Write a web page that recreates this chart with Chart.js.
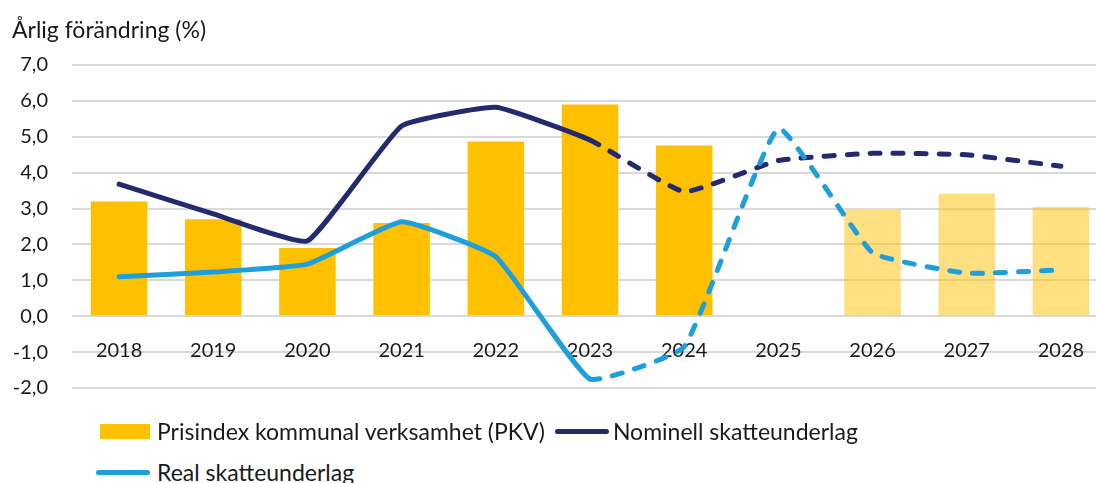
<!DOCTYPE html>
<html>
<head>
<meta charset="utf-8">
<script src="https://cdn.jsdelivr.net/npm/chart.js@4.4.1/dist/chart.umd.min.js"></script>
<style>
    body { margin: 0; background: #fff; overflow: hidden; font-family: Lato, sans-serif; color: #1a1a1a; }
    #wrap { position: relative; width: 1096px; height: 483px; overflow: hidden; }
    #chart { position: absolute; left: 0; top: 0; }
    #yTitle { position: absolute; left: 12px; top: 15px; font-size: 23px; white-space: nowrap; }
    .legend-row { position: absolute; display: flex; align-items: center; font-size: 23px; white-space: nowrap; }
    .swatch-bar { width: 50px; height: 15px; background: #FFC000; margin-right: 7px; }
    .swatch-line { width: 54px; height: 5px; border-radius: 3px; margin-right: 4px; }
</style>
</head>
<body>
<div id="wrap">
    <canvas id="chart" width="1110" height="424"></canvas>
    <div id="yTitle">Årlig förändring (%)</div>
    <div class="legend-row" style="left: 100px; top: 417px;">
        <div class="swatch-bar"></div><span>Prisindex kommunal verksamhet (PKV)</span>
        <div class="swatch-line" style="background: #232B6E; margin-left: 10px;"></div><span>Nominell skatteunderlag</span>
    </div>
    <div class="legend-row" style="left: 96px; top: 458px;">
        <div class="swatch-line" style="background: #1E9FDB; margin-right: 7px;"></div><span>Real skatteunderlag</span>
    </div>
</div>
<script>
const years = ['2018', '2019', '2020', '2021', '2022', '2023', '2024', '2025', '2026', '2027', '2028'];
const pkv = [3.2, 2.7, 1.9, 2.6, 4.87, 5.9, 4.76, null, 2.96, 3.41, 3.04];
const nominal = [3.68, 2.85, 2.1, 5.3, 5.82, 4.91, 3.47, 4.34, 4.54, 4.5, 4.18];
const real = [1.1, 1.23, 1.45, 2.63, 1.66, -1.75, -0.85, 5.23, 1.77, 1.2, 1.29];
const firstForecast = 5; // dashed from 2023 onwards
const yTicks = [-2, -1, 0, 1, 2, 3, 4, 5, 6, 7];

const gold = '#FFC000';
const goldLight = 'rgba(255, 192, 0, 0.5)';
const pkvColors = years.map(y => Number(y) >= 2026 ? goldLight : gold);

const dashAfter = ctx => ctx.p0DataIndex >= firstForecast ? [10, 13] : undefined;

const font = { family: 'Lato, sans-serif', size: 20 };

new Chart(document.getElementById('chart'), {
    type: 'bar',
    data: {
        labels: years,
        datasets: [
            {
                type: 'line',
                label: 'Real skatteunderlag',
                data: real,
                borderColor: '#1E9FDB',
                borderWidth: 5,
                borderCapStyle: 'round',
                borderJoinStyle: 'round',
                pointRadius: 0,
                tension: 0.12,
                segment: { borderDash: dashAfter },
                order: 0
            },
            {
                type: 'line',
                label: 'Nominell skatteunderlag',
                data: nominal,
                borderColor: '#232B6E',
                borderWidth: 5,
                borderCapStyle: 'round',
                borderJoinStyle: 'round',
                pointRadius: 0,
                tension: 0.12,
                segment: { borderDash: dashAfter },
                order: 1
            },
            {
                label: 'Prisindex kommunal verksamhet (PKV)',
                data: pkv,
                backgroundColor: pkvColors,
                categoryPercentage: 1,
                barPercentage: 0.6,
                order: 2
            }
        ]
    },
    options: {
        responsive: false,
        animation: false,
        devicePixelRatio: 1,
        layout: { padding: { left: 0, right: 2, top: 65, bottom: 23 } },
        plugins: {
            legend: { display: false },
            tooltip: { enabled: false }
        },
        scales: {
            x: {
                position: { y: 0 },
                grid: { display: false, drawTicks: false },
                border: { display: false },
                ticks: { font: font, color: '#1a1a1a', padding: 22, maxRotation: 0 }
            },
            y: {
                min: -2,
                max: 7,
                afterFit: scale => { scale.width = 72; },
                afterBuildTicks: scale => { scale.ticks = yTicks.map(v => ({ value: v })); },
                grid: { color: '#D9D9D9', lineWidth: 2, drawTicks: false },
                border: { display: false },
                ticks: {
                    font: font,
                    color: '#1a1a1a',
                    padding: 24,
                    callback: v => v.toFixed(1).replace('.', ',')
                }
            }
        }
    }
});
</script>
</body>
</html>
